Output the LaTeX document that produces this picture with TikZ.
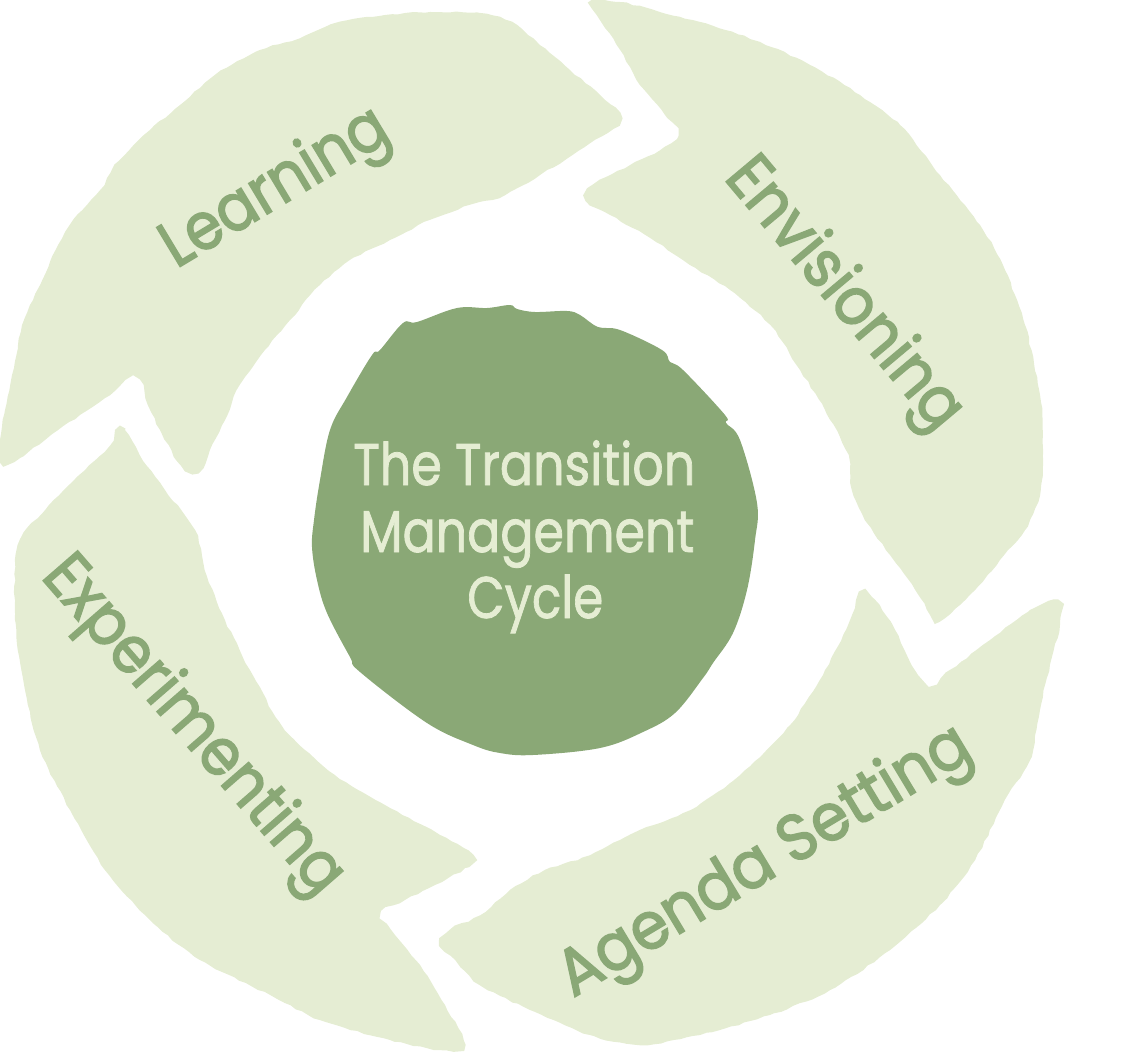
\documentclass[tikz,border=0pt]{standalone}
\usepackage{fontspec}
\usepackage{graphicx}
\usetikzlibrary{decorations.pathmorphing}
\newfontfamily\cyclefont[FakeBold=2.4]{Poppins}
\newfontfamily\titlefont[FakeBold=1.4]{Poppins}
\definecolor{bladegreen}{HTML}{E5EDD3}
\definecolor{coregreen}{HTML}{8AA876}
% word squeezed to a width given in pixels of the reference
\newcommand\fitword[2]{\resizebox{0.75\dimexpr #1pt\relax}{\height}{#2}}
\tikzset{
  blade/.style={fill=bladegreen,draw=none,decorate,decoration={random steps,segment length=5,amplitude=.6}},
  core/.style={fill=coregreen,draw=none},
  bladelabel/.style={text=coregreen,font=\cyclefont\fontsize{49}{60}\selectfont,inner sep=0pt,anchor=base west},
  title/.style={text=bladegreen,font=\titlefont\fontsize{44}{50}\selectfont,inner sep=0pt,anchor=base west}
}
\begin{document}
\begin{tikzpicture}[x=0.75pt,y=-0.75pt]
  \useasboundingbox (0,0) rectangle (1137,1052);
  % blades, clockwise from the top left
  \path[blade] plot[smooth cycle,tension=.5] coordinates {(3,465) (0,440) (5,410) (12,375) (18,345) (25,318) (40,285) (50,262) (70,225) (100,190) (115,165) (150,130) (180,105) (215,75) (260,50) (300,38) (340,22) (385,15) (430,12) (480,13) (512,22) (540,45) (570,70) (600,95) (620,113) (618,125) (595,140) (565,160) (540,175) (505,195) (470,205) (430,220) (390,240) (350,260) (320,285) (290,320) (265,350) (240,385) (225,420) (210,450) (203,468) (192,473) (178,462) (160,430) (148,405) (143,385) (132,378) (110,395) (80,415) (45,440) (20,458)};
  \path[blade] plot[smooth cycle,tension=.5] coordinates {(590,2) (620,2) (660,12) (700,22) (760,42) (810,65) (860,95) (900,125) (940,175) (980,225) (1005,270) (1025,325) (1040,395) (1043,450) (1040,495) (1025,530) (1000,560) (975,590) (945,618) (935,620) (915,590) (890,555) (865,520) (852,490) (848,455) (825,410) (800,370) (770,325) (730,290) (690,265) (650,238) (610,215) (590,205) (585,195) (600,180) (630,165) (660,150) (678,135) (665,115) (640,85) (620,50) (600,20)};
  \path[blade] plot[smooth cycle,tension=.5] coordinates {(1058,600) (1060,625) (1050,665) (1040,710) (1030,760) (1005,800) (975,860) (940,905) (890,950) (830,990) (770,1015) (700,1035) (640,1045) (590,1035) (530,1010) (480,985) (455,960) (440,945) (450,930) (480,915) (510,890) (545,870) (590,855) (640,830) (690,810) (740,775) (790,725) (825,670) (850,620) (860,592) (875,600) (895,630) (915,670) (930,685) (950,670) (990,640) (1030,610)};
  \path[blade] plot[smooth cycle,tension=.5] coordinates {(115,430) (125,430) (140,455) (165,490) (195,530) (205,570) (225,620) (250,670) (285,730) (335,775) (385,805) (440,835) (473,855) (465,868) (435,885) (405,900) (382,912) (395,935) (420,965) (445,1005) (465,1045) (440,1050) (390,1040) (320,1020) (270,995) (200,960) (150,920) (105,870) (70,810) (40,750) (25,690) (15,620) (18,545) (45,510) (85,470) (110,445)};
  % centre
  \path[core] plot[smooth cycle,tension=.6] coordinates {(312,547) (314,520) (320,480) (330,430) (347,397) (372,355) (380,350) (403,323) (417,322) (457,308) (487,308) (510,305) (517,309) (535,312) (567,311) (580,315) (598,327) (620,330) (662,350) (670,362) (683,370) (725,415) (726,423) (740,440) (757,503) (755,540) (747,590) (733,633) (713,663) (703,678) (675,713) (643,732) (600,748) (533,755) (500,753) (473,745) (427,723) (360,672) (350,657) (327,613) (317,580)};
  \node[title] (transition) at (353,485) {\fitword{342}{The Transition}};
  \node[title] (management) at (360,552) {\fitword{334}{Management}};
  \node[title] (cycle) at (467,618) {\fitword{136}{Cycle}};
  % labels
  \node[bladelabel,rotate=31] (learning) at (176,269) {\fitword{253}{Learning}};
  \node[bladelabel,rotate=-50] (envisioning) at (723,178) {\fitword{333}{Envisioning}};
  \node[bladelabel,rotate=31] (agenda) at (573,998) {\fitword{469}{Agenda Setting}};
  \node[bladelabel,rotate=-49] (experimenting) at (40,577) {\fitword{425}{Experimenting}};
\end{tikzpicture}
\end{document}
